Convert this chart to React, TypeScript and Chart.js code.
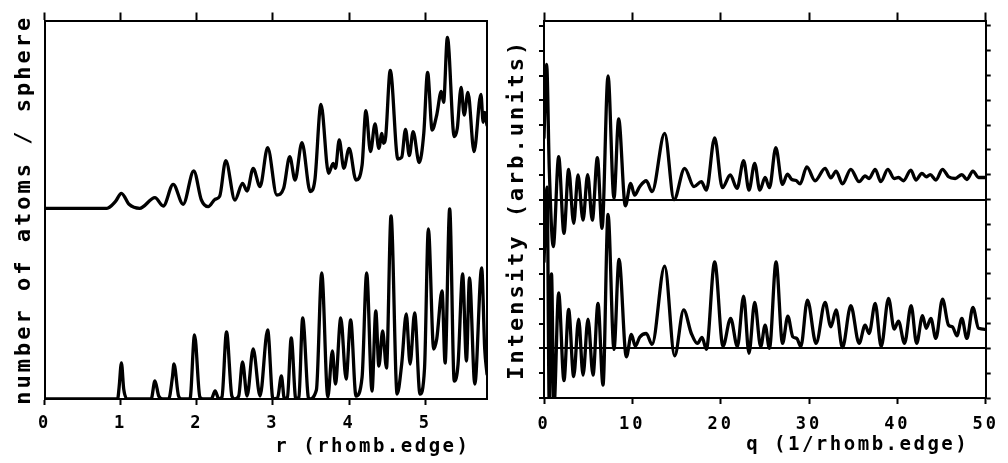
import React, { useEffect, useRef } from "react";
import { Chart, registerables } from "chart.js";

Chart.register(...registerables);

const MONO = '"DejaVu Sans Mono", monospace';
const BLACK = "#000";

// ---------- Left panel: number of atoms / sphere vs r ----------
const rTicks = [0, 1, 2, 3, 4, 5];
const rMin = 0;
const rMax = 5.81;
const leftYMax = 37.85;
const upperShiftLeft = 19.07;

const rUpper = [
  0, 0.82, 0.93, 1.01, 1.11, 1.25, 1.45, 1.56, 1.69, 1.82, 1.96, 2.06, 2.15, 2.24, 2.3, 2.38,
  2.5, 2.6, 2.66, 2.74, 2.83, 2.93, 3.05, 3.14, 3.22, 3.29, 3.38, 3.49, 3.55, 3.63, 3.73, 3.79,
  3.82, 3.87, 3.93, 4.0, 4.09, 4.17, 4.22, 4.28, 4.34, 4.39, 4.43, 4.45, 4.48, 4.54, 4.64, 4.69,
  4.74, 4.79, 4.84, 4.92, 4.98, 5.03, 5.09, 5.15, 5.21, 5.24, 5.29, 5.38, 5.42, 5.47, 5.51, 5.56,
  5.64, 5.73, 5.76, 5.78, 5.81,
];
const nUpper = [
  0, 0, 0.66, 1.5, 0.4, 0.0, 1.06, 0.23, 2.4, 0.4, 3.73, 0.83, 0.17, 0.9, 1.2, 4.77,
  0.83, 2.5, 1.73, 4.0, 2.17, 6.07, 1.33, 2.0, 5.17, 2.83, 6.57, 1.67, 2.83, 10.4, 3.5, 4.5,
  4.0, 6.83, 4.0, 6.0, 2.83, 4.33, 9.77, 5.67, 8.43, 6.0, 7.5, 6.5, 7.17, 13.8, 4.93, 5.1,
  7.9, 5.27, 7.67, 4.57, 7.5, 13.6, 7.83, 9.33, 11.7, 10.6, 17.1, 7.17, 8.0, 12.1, 9.33, 11.6,
  5.67, 11.4, 8.6, 9.6, 8.3,
];

const rLower = [
  0, 0.96, 0.98, 1.01, 1.04, 1.09, 1.4, 1.45, 1.5, 1.55, 1.63, 1.68, 1.7, 1.76, 1.8, 1.91,
  1.97, 2.04, 2.08, 2.19, 2.24, 2.29, 2.33, 2.39, 2.46, 2.5, 2.55, 2.6, 2.66, 2.74, 2.83, 2.93,
  3.0, 3.06, 3.11, 3.15, 3.19, 3.24, 3.3, 3.34, 3.39, 3.47, 3.57, 3.64, 3.72, 3.78, 3.82, 3.89,
  3.96, 4.02, 4.09, 4.17, 4.23, 4.3, 4.35, 4.39, 4.44, 4.49, 4.55, 4.63, 4.69, 4.75, 4.8, 4.86,
  4.93, 4.99, 5.04, 5.11, 5.15, 5.22, 5.26, 5.32, 5.38, 5.43, 5.49, 5.54, 5.58, 5.65, 5.74, 5.78,
  5.81,
];
const nLower = [
  0, 0, 1.2, 3.6, 1.0, 0, 0, 1.8, 0.3, 0, 0, 2.2, 3.5, 0.3, 0, 0,
  6.4, 0.2, 0, 0, 0.8, 0, 0.2, 6.7, 0.3, 0, 0.3, 3.7, 0.3, 5.0, 0.3, 6.9,
  0, 0.1, 2.3, 0, 0.2, 6.1, 0, 0.2, 8.1, 0, 0.9, 12.6, 0.2, 4.8, 1.5, 8.1,
  2.0, 7.9, 0.3, 2.2, 12.6, 0.8, 8.8, 3.3, 6.8, 3.1, 18.3, 0.5, 3.5, 8.5, 3.5, 8.6,
  0.5, 3.1, 17.0, 5.0, 6.0, 10.8, 3.6, 19.0, 1.8, 3.5, 12.5, 3.8, 12.1, 1.5, 13.1, 5.0,
  2.5,
];

// ---------- Right panel: intensity vs q ----------
const qTicks = [0, 10, 20, 30, 40, 50];
const qMin = 0;
const qMax = 50;
const intensityTicks = [0, 1, 2, 3, 4, 5, 6, 7, 8, 9, 10, 11, 12, 13, 14, 15];
const rightYMax = 15.22;
const upperBaseRight = 8;
const lowerBaseRight = 2;

const qUpper = [
  0, 0.3, 0.6, 1.05, 1.66, 2.26, 2.79, 3.36, 3.85, 4.42, 4.94, 5.47, 6.04, 6.57, 7.25, 7.92,
  8.45, 9.21, 9.81, 10.26, 10.83, 11.58, 12.23, 13.66, 14.72, 15.92, 16.98, 17.81, 18.38, 19.32, 20.19, 21.09,
  21.85, 22.6, 23.2, 23.85, 24.43, 25.03, 25.52, 26.24, 26.99, 27.56, 28.05, 28.54, 28.99, 29.75, 30.69, 31.82,
  32.47, 33.07, 33.78, 34.73, 35.67, 36.35, 36.8, 37.49, 38.13, 38.92, 39.64, 40.13, 40.69, 41.53, 42.1, 42.78,
  43.27, 43.72, 44.36, 45.11, 45.79, 46.55, 47.3, 47.87, 48.55, 49.19, 50,
];
const iUpper = [
  2.5, 5.45, 1.2, -1.9, 1.73, -1.36, 1.22, -0.96, 0.99, -0.83, 1.01, -0.83, 1.69, -1.16, 4.99, 0.05,
  3.25, -0.25, 0.65, 0.18, 0.52, 0.76, 0.32, 2.67, 0.0, 1.26, 0.52, 0.72, 0.38, 2.49, 0.48, 0.99,
  0.45, 1.57, 0.38, 1.46, 0.38, 0.89, 0.48, 2.09, 0.61, 1.03, 0.81, 0.77, 0.63, 1.32, 0.76, 1.26,
  0.88, 1.15, 0.63, 1.22, 0.72, 0.95, 0.85, 1.22, 0.72, 1.22, 0.85, 0.89, 0.76, 1.19, 0.79, 1.06,
  0.92, 1.01, 0.79, 1.22, 0.92, 0.85, 1.01, 0.81, 1.15, 0.89, 0.89,
];

const qLower = [
  0, 0.35, 0.6, 0.85, 1.12, 1.66, 2.26, 2.79, 3.36, 3.92, 4.42, 4.98, 5.55, 6.11, 6.68, 7.25,
  7.92, 8.49, 9.32, 9.89, 10.34, 10.83, 11.58, 12.23, 13.66, 14.79, 15.81, 16.68, 17.36, 17.89, 18.38, 19.32,
  20.26, 21.13, 21.89, 22.6, 23.2, 23.85, 24.53, 25.03, 25.52, 26.27, 27.0, 27.6, 28.16, 28.62, 29.07, 29.82,
  30.8, 31.82, 32.47, 33.07, 33.78, 34.73, 35.67, 36.35, 36.8, 37.49, 38.17, 39.0, 39.64, 40.13, 40.81, 41.56,
  42.18, 42.85, 43.27, 43.79, 44.36, 45.11, 45.79, 46.24, 46.74, 47.3, 47.87, 48.55, 49.19, 50,
];
const iLower = [
  3.5, 6.5, -2.4, 3.0, -2.4, 2.24, -1.3, 1.57, -1.14, 1.18, -1.08, 1.18, -1.08, 1.81, -1.48, 5.4,
  -0.04, 3.59, -0.34, 0.56, 0.09, 0.45, 0.6, 0.16, 3.32, -0.3, 1.55, 0.6, 0.2, 0.44, -0.04, 3.49,
  0.09, 1.21, 0.07, 2.11, -0.2, 1.85, 0.07, 0.94, 0.0, 3.49, 0.2, 1.3, 0.47, 0.4, 0.07, 1.95,
  0.2, 1.85, 0.87, 1.55, 0.03, 1.72, 0.2, 0.94, 0.6, 1.81, 0.07, 2.02, 0.78, 1.1, 0.2, 1.72,
  0.2, 1.32, 0.81, 1.21, 0.4, 1.99, 0.94, 0.87, 0.51, 1.21, 0.4, 1.65, 0.81, 0.77,
];

// ---------- helpers ----------
const tickFont = { family: MONO, size: 17, weight: "bold" as const };
const titleFont = { family: MONO, size: 22, weight: "bold" as const };

const lineStyle = {
  borderColor: BLACK,
  borderWidth: 3.3,
  pointRadius: 0,
  fill: false,
  cubicInterpolationMode: "monotone" as const,
  borderJoinStyle: "round" as const,
  borderCapStyle: "round" as const,
  xAxisID: "x",
  yAxisID: "y",
};

const setTicks = (values: number[]) => (scale: any) => {
  scale.ticks = values.map((v) => ({ value: v }));
};

const toPoints = (xs: number[], ys: number[], shift: number) =>
  xs.map((x, i) => ({ x, y: ys[i] + shift }));

const plotterText = {
  id: "plotterText",
  beforeDraw(chart: any) {
    chart.ctx.letterSpacing = "3px";
  },
  afterDraw(chart: any, _args: any, opts: any) {
    if (!opts || !opts.text) return;
    const { ctx, chartArea } = chart;
    ctx.save();
    ctx.font = `bold 19px ${MONO}`;
    ctx.letterSpacing = "2.5px";
    ctx.fillStyle = BLACK;
    ctx.textAlign = "right";
    ctx.textBaseline = "alphabetic";
    ctx.fillText(opts.text, chartArea.right - opts.endGap, opts.baseline);
    ctx.restore();
  },
};

function leftConfig(): any {
  return {
    type: "line",
    data: {
      datasets: [
        { ...lineStyle, data: toPoints(rUpper, nUpper, upperShiftLeft) },
        { ...lineStyle, data: toPoints(rLower, nLower, 0) },
      ],
    },
    options: {
      responsive: false,
      animation: false,
      events: [],
      layout: { padding: { left: 0, right: 17, top: 20.5, bottom: 0 } },
      plugins: {
        legend: { display: false },
        tooltip: { enabled: false },
        plotterText: { text: "r (rhomb.edge)", endGap: 16.5, baseline: 451.7 },
      },
      scales: {
        x: {
          type: "linear",
          position: "bottom",
          min: rMin,
          max: rMax,
          afterBuildTicks: setTicks(rTicks),
          ticks: { font: tickFont, color: BLACK, padding: 8, maxRotation: 0, autoSkip: false, callback: (v: any) => String(v) },
          grid: { drawOnChartArea: false, tickLength: 6, tickWidth: 2, tickColor: BLACK },
          border: { color: BLACK, width: 2 },
          afterFit: (s: any) => { s.height = 64; },
        },
        xTop: {
          type: "linear",
          position: "top",
          min: rMin,
          max: rMax,
          afterBuildTicks: setTicks(rTicks),
          ticks: { display: false },
          grid: { drawOnChartArea: false, tickLength: 8, tickWidth: 2, tickColor: BLACK },
          border: { color: BLACK, width: 2 },
          afterFit: (s: any) => { s.height = 0; },
        },
        y: {
          type: "linear",
          position: "left",
          min: 0,
          max: leftYMax,
          ticks: { display: false },
          grid: { display: false },
          border: { color: BLACK, width: 2 },
          title: {
            display: true,
            text: "number of atoms / sphere",
            font: titleFont,
            color: BLACK,
            padding: { top: 11.2, bottom: 0 },
          },
          afterFit: (s: any) => { s.width = 44.5; },
        },
        yRight: {
          type: "linear",
          position: "right",
          min: 0,
          max: leftYMax,
          ticks: { display: false },
          grid: { display: false },
          border: { color: BLACK, width: 2 },
          afterFit: (s: any) => { s.width = 0; },
        },
      },
    },
    plugins: [plotterText],
  };
}

function rightConfig(): any {
  return {
    type: "line",
    data: {
      datasets: [
        { ...lineStyle, data: toPoints(qUpper, iUpper, upperBaseRight) },
        { ...lineStyle, data: toPoints(qLower, iLower, lowerBaseRight) },
      ],
    },
    options: {
      responsive: false,
      animation: false,
      events: [],
      layout: { padding: { left: 0, right: 0, top: 20.5, bottom: 0 } },
      plugins: {
        legend: { display: false },
        tooltip: { enabled: false },
        plotterText: { text: "q (1/rhomb.edge)", endGap: 16.5, baseline: 450 },
      },
      scales: {
        x: {
          type: "linear",
          position: "bottom",
          min: qMin,
          max: qMax,
          afterBuildTicks: setTicks(qTicks),
          ticks: { font: tickFont, color: BLACK, padding: 10, maxRotation: 0, autoSkip: false, callback: (v: any) => String(v) },
          grid: { drawOnChartArea: false, tickLength: 6, tickWidth: 2, tickColor: BLACK },
          border: { color: BLACK, width: 2 },
          afterFit: (s: any) => { s.height = 65; },
        },
        xTop: {
          type: "linear",
          position: "top",
          min: qMin,
          max: qMax,
          afterBuildTicks: setTicks(qTicks),
          ticks: { display: false },
          grid: { drawOnChartArea: false, tickLength: 8, tickWidth: 2, tickColor: BLACK },
          border: { color: BLACK, width: 2 },
          afterFit: (s: any) => { s.height = 0; },
        },
        y: {
          type: "linear",
          position: "left",
          min: 0,
          max: rightYMax,
          afterBuildTicks: setTicks(intensityTicks),
          ticks: { display: false },
          grid: {
            drawOnChartArea: true,
            color: (c: any) =>
              c.tick && (c.tick.value === lowerBaseRight || c.tick.value === upperBaseRight) ? BLACK : "rgba(0,0,0,0)",
            lineWidth: 2,
            tickLength: 5,
            tickWidth: 2,
            tickColor: BLACK,
          },
          border: { color: BLACK, width: 2 },
          title: {
            display: true,
            text: "Intensity (arb.units)",
            font: titleFont,
            color: BLACK,
            padding: { top: 0.2, bottom: 0 },
          },
          afterFit: (s: any) => { s.width = 40; },
        },
        yRight: {
          type: "linear",
          position: "right",
          min: 0,
          max: rightYMax,
          afterBuildTicks: setTicks(intensityTicks),
          ticks: { display: false },
          grid: { drawOnChartArea: false, tickLength: 5, tickWidth: 2, tickColor: BLACK },
          border: { color: BLACK, width: 2 },
          afterFit: (s: any) => { s.width = 22.3; },
        },
      },
    },
    plugins: [plotterText],
  };
}

export default function App() {
  const leftRef = useRef<HTMLCanvasElement>(null);
  const rightRef = useRef<HTMLCanvasElement>(null);

  useEffect(() => {
    const left = new Chart(leftRef.current as HTMLCanvasElement, leftConfig());
    const right = new Chart(rightRef.current as HTMLCanvasElement, rightConfig());
    return () => {
      left.destroy();
      right.destroy();
    };
  }, []);

  return (
    <div style={{ position: "fixed", left: 0, top: 0, width: 1008, height: 463, background: "#fff" }}>
      <canvas ref={leftRef} width={504} height={463} style={{ position: "absolute", left: 0, top: 0 }} />
      <canvas ref={rightRef} width={504} height={463} style={{ position: "absolute", left: 504, top: 0 }} />
    </div>
  );
}
